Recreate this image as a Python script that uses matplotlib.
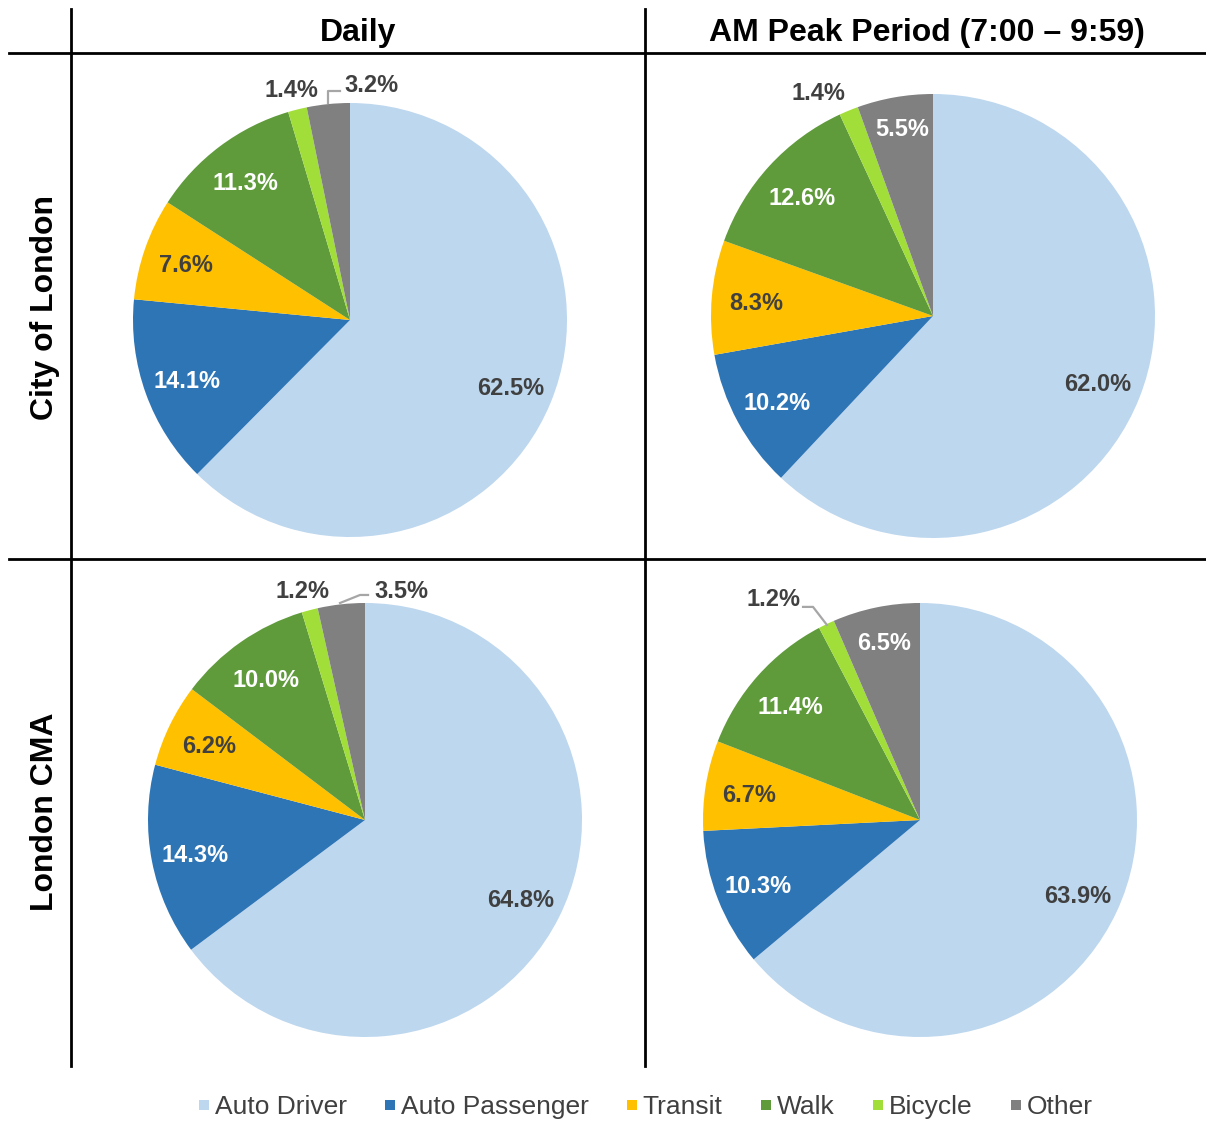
import matplotlib.pyplot as plt
from matplotlib.lines import Line2D
import numpy as np

categories = ["Auto Driver", "Auto Passenger", "Transit", "Walk", "Bicycle", "Other"]
daily_city = [62.5, 14.1, 7.6, 11.3, 1.4, 3.2]
peak_city = [62.0, 10.2, 8.3, 12.6, 1.4, 5.5]
daily_cma = [64.8, 14.3, 6.2, 10.0, 1.2, 3.5]
peak_cma = [63.9, 10.3, 6.7, 11.4, 1.2, 6.5]
col_titles = ["Daily", "AM Peak Period (7:00 \u2013 9:59)"]
row_titles = ["City of London", "London CMA"]

COLORS = ["#BDD7EE", "#2E75B6", "#FFC000", "#5F9A3B", "#A2DE3A", "#808080"]
DARK = "#404040"
WHITE_LABELS = {1, 3}

W, H = 1206, 1122

# pixel center / radius of each pie
PIES = [
    (daily_city, (350, 320, 217)),
    (peak_city, (933, 316, 222)),
    (daily_cma, (365, 820, 217)),
    (peak_cma, (920, 820, 217)),
]

# manual label positions (pie units) for small slices, and leader lines
OVERRIDES = [
    {4: (-0.272, 1.069), 5: (0.097, 1.092)},
    {4: (-0.518, 1.014), 5: (-0.140, 0.851)},
    {4: (-0.286, 1.065), 5: (0.166, 1.065)},
    {4: (-0.673, 1.028), 5: (-0.166, 0.825)},
]
LEADERS = [
    [(-0.101, 1.0), (-0.101, 1.055), (-0.046, 1.055)],
    None,
    [(-0.115, 1.0), (-0.023, 1.037), (0.014, 1.037)],
    [(-0.429, 0.899), (-0.493, 0.982), (-0.539, 0.982)],
]
WHITE_OTHER = [False, True, False, True]
TEXT_DY = -0.013

plt.rcParams["font.family"] = ["Liberation Sans", "DejaVu Sans"]
fig = plt.figure(figsize=(W / 100, H / 100), dpi=100)

for i, (vals, (cx, cy, r)) in enumerate(PIES):
    ax = fig.add_axes([(cx - r) / W, 1 - (cy + r) / H, 2 * r / W, 2 * r / H])
    wedges, _ = ax.pie(vals, colors=COLORS, startangle=90, counterclock=False,
                       radius=1, wedgeprops=dict(linewidth=0))
    ax.set_xlim(-1, 1)
    ax.set_ylim(-1, 1)
    ax.set_aspect("equal")
    ax.axis("off")
    for j, w in enumerate(wedges):
        if j in OVERRIDES[i]:
            x, y = OVERRIDES[i][j]
        else:
            ang = np.deg2rad((w.theta1 + w.theta2) / 2)
            x, y = 0.8 * np.cos(ang), 0.8 * np.sin(ang)
        color = "white" if (j in WHITE_LABELS or (j == 5 and WHITE_OTHER[i])) else DARK
        ax.text(x, y + TEXT_DY, f"{vals[j]:.1f}%", ha="center", va="center", fontsize=17,
                fontweight="bold", color=color, clip_on=False)
    if LEADERS[i]:
        xs, ys = zip(*LEADERS[i])
        ax.plot(xs, ys, color="#A6A6A6", lw=1.6, clip_on=False)

# grid lines
def hline(y, x0, x1):
    fig.add_artist(Line2D([x0 / W, x1 / W], [1 - y / H, 1 - y / H], color="black", lw=2))

def vline(x, y0, y1):
    fig.add_artist(Line2D([x / W, x / W], [1 - y0 / H, 1 - y1 / H], color="black", lw=2))

hline(53, 9, 1206)
hline(559, 9, 1206)
vline(71, 9, 1066)
vline(645, 9, 1066)

fig.text(358 / W, 1 - 33 / H, col_titles[0], ha="center", va="center",
         fontsize=23, fontweight="bold")
fig.text(927 / W, 1 - 33 / H, col_titles[1], ha="center", va="center",
         fontsize=23, fontweight="bold")
fig.text(45 / W, 1 - 307 / H, row_titles[0], ha="center", va="center",
         fontsize=23, fontweight="bold", rotation=90)
fig.text(45 / W, 1 - 812 / H, row_titles[1], ha="center", va="center",
         fontsize=23, fontweight="bold", rotation=90)

handles = [Line2D([], [], marker="s", linestyle="none", markersize=7.5,
                  markerfacecolor=c, markeredgewidth=0) for c in COLORS]
leg = fig.legend(handles, categories, loc="center", bbox_to_anchor=(645 / W, 1 - 1107 / H),
                 ncol=6, frameon=False, handlelength=0.5, handletextpad=0.15,
                 columnspacing=1.4, prop={"size": 19})
for t in leg.get_texts():
    t.set_color(DARK)

fig.savefig("out.png", dpi=100)
